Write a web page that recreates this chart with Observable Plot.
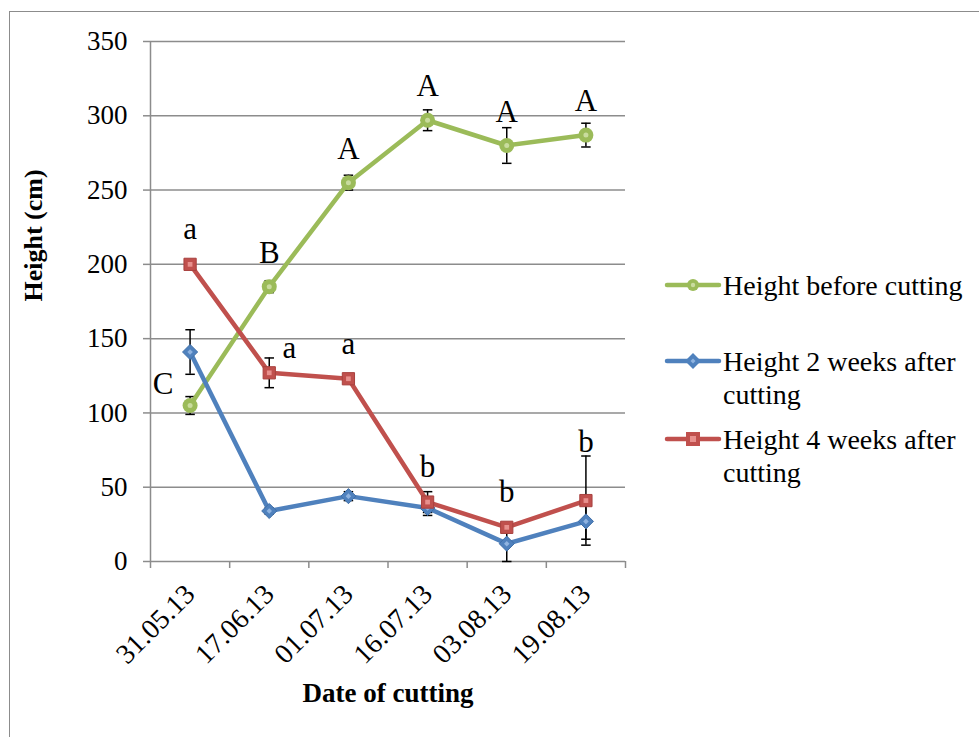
<!DOCTYPE html>
<html>
<head>
<meta charset="utf-8">
<script src="https://cdn.jsdelivr.net/npm/d3@7"></script>
<script src="https://cdn.jsdelivr.net/npm/@observablehq/plot@0.6"></script>
<style>
  html, body { margin: 0; padding: 0; background: #fff; }
  #wrap { position: relative; width: 979px; height: 737px; overflow: hidden; background: #fff; font-family: "Liberation Serif", serif; }
  #frame { position: absolute; left: 9px; top: 11px; width: 1100px; height: 900px; border: 1.5px solid #8c8c8c; box-sizing: border-box; }
  #chart { position: absolute; left: 0; top: 0; }
  #legend { position: absolute; left: 664px; top: 0; font-size: 28px; color: #000; }
  .item { position: absolute; left: 0; white-space: nowrap; }
  .item svg { position: absolute; left: 0; }
  .item .txt { position: absolute; left: 59px; line-height: 33px; }
</style>
</head>
<body>
<div id="wrap">
  <div id="frame"></div>
  <div id="chart"></div>
  <div id="legend"></div>
</div>
<script>
// ---- data ----
const dates = ["31.05.13", "17.06.13", "01.07.13", "16.07.13", "03.08.13", "19.08.13"];
const seriesNames = ["Height before cutting", "Height 2 weeks after cutting", "Height 4 weeks after cutting"];
const before = [105, 185, 255, 297, 280, 287];
const beforeErr = [6, 4, 5, 7, 12, 8];
const week2 = [141, 34, 44, 36, 12, 27];
const week2Err = [15, 2, 3, 5, 12, 12];
const week4 = [200, 127, 123, 40, 23, 41];
const week4Err = [2, 10, 3, 7, 2, 30];
const beforeLetters = ["C", "B", "A", "A", "A", "A"];
const week4Letters = ["a", "a", "a", "b", "b", "b"];
const yTicks = [0, 50, 100, 150, 200, 250, 300, 350];

// ---- styles ----
const colors = ["#9BBB59", "#4F81BD", "#C0504D"];
const light = ["#c9dc9e", "#8fb3e0", "#e8908d"];

const idx = d3.range(dates.length);
const mk = (vals, errs, s) => idx.map(i => ({i, x: i + 0.5, v: vals[i], e: errs[i], s}));
const green = mk(before, beforeErr, 0);
const blue = mk(week2, week2Err, 1);
const red = mk(week4, week4Err, 2);
const all = [...green, ...blue, ...red];

// label placement offsets (pixels), per label
const greenOff = i => i === 0 ? [-27, -12] : [0, -24];
const redOff = i => i === 1 ? [20, -15] : (i === 5 ? [0, -49] : [0, -25]);
const labelMarks = [];
idx.forEach(i => {
  const [gx, gy] = greenOff(i);
  labelMarks.push(Plot.text([{x: i + 0.5, v: before[i], t: beforeLetters[i]}], {x: "x", y: "v", text: "t", dx: gx, dy: gy, lineAnchor: "bottom", fontSize: 31}));
  const [rx, ry] = redOff(i);
  labelMarks.push(Plot.text([{x: i + 0.5, v: week4[i], t: week4Letters[i]}], {x: "x", y: "v", text: "t", dx: rx, dy: ry, lineAnchor: "bottom", fontSize: 31}));
});

const cap = 0.06;

const chart = Plot.plot({
  width: 979,
  height: 737,
  marginLeft: 150,
  marginRight: 354,
  marginTop: 41,
  marginBottom: 176,
  x: {domain: [0, 6]},
  y: {domain: [0, 350]},
  style: {fontFamily: "Liberation Serif, serif", fontSize: "27px", color: "#000", background: "transparent", overflow: "visible"},
  marks: [
    Plot.gridY(yTicks.filter(d => d > 0), {stroke: "#8c8c8c", strokeOpacity: 1, strokeWidth: 1.5}),
    Plot.ruleY([0], {stroke: "#8c8c8c", strokeWidth: 1.5}),
    Plot.ruleX([0], {stroke: "#8c8c8c", strokeWidth: 1.5}),
    Plot.axisY({ticks: yTicks, tickSize: 7, tickPadding: 16, stroke: "#8c8c8c", strokeWidth: 1.5, label: null, fontSize: 27}),
    Plot.axisX({ticks: d3.range(0, 7), tickFormat: () => "", tickSize: 7, stroke: "#8c8c8c", strokeWidth: 1.5, label: null}),
    Plot.axisX({ticks: idx.map(i => i + 0.5), tickFormat: t => dates[Math.floor(t)], tickSize: 0, tickPadding: 28, tickRotate: -45, label: null, fontSize: 28}),
    Plot.text(["Height (cm)"], {frameAnchor: "left", dx: -117, rotate: -90, fontWeight: "bold", fontSize: 26}),
    Plot.text(["Date of cutting"], {frameAnchor: "bottom", dy: 140, fontWeight: "bold", fontSize: 27}),
    // error bars
    Plot.ruleX(all, {x: "x", y1: d => d.v - d.e, y2: d => d.v + d.e, stroke: "#000", strokeWidth: 1.5}),
    Plot.link(all, {x1: d => d.x - cap, x2: d => d.x + cap, y1: d => d.v + d.e, y2: d => d.v + d.e, stroke: "#000", strokeWidth: 1.5}),
    Plot.link(all, {x1: d => d.x - cap, x2: d => d.x + cap, y1: d => d.v - d.e, y2: d => d.v - d.e, stroke: "#000", strokeWidth: 1.5}),
    // green
    Plot.line(green, {x: "x", y: "v", stroke: colors[0], strokeWidth: 4.5}),
    Plot.dot(green, {x: "x", y: "v", r: 7.5, fill: colors[0], stroke: "none"}),
    Plot.dot(green, {x: "x", y: "v", r: 2.5, fill: light[0]}),
    // blue
    Plot.line(blue, {x: "x", y: "v", stroke: colors[1], strokeWidth: 4.5}),
    Plot.dot(blue, {x: "x", y: "v", symbol: "diamond2", r: 6.8, fill: colors[1], stroke: "#3f6fa8", strokeWidth: 1}),
    Plot.dot(blue, {x: "x", y: "v", symbol: "diamond2", r: 2.5, fill: light[1]}),
    // red
    Plot.line(red, {x: "x", y: "v", stroke: colors[2], strokeWidth: 4.5}),
    Plot.dot(red, {x: "x", y: "v", symbol: "square2", r: 7.8, fill: colors[2], stroke: "#a8413e", strokeWidth: 1}),
    Plot.dot(red, {x: "x", y: "v", symbol: "square2", r: 3, fill: light[2]}),
    // letters
    ...labelMarks
  ]
});
document.getElementById("chart").appendChild(chart);

// ---- legend ----
const legendItems = [
  {lines: ["Height before cutting"], y: 285, sym: "circle"},
  {lines: ["Height 2 weeks after", "cutting"], y: 361, sym: "diamond"},
  {lines: ["Height 4 weeks after", "cutting"], y: 439, sym: "square"}
];
const leg = document.getElementById("legend");
legendItems.forEach((it, k) => {
  const div = document.createElement("div");
  div.className = "item";
  div.style.top = (it.y - 16.5) + "px";
  let marker = "";
  if (it.sym === "circle") marker = `<circle cx="29" cy="12" r="6" fill="${colors[k]}"/><circle cx="29" cy="12" r="2.2" fill="${light[k]}"/>`;
  if (it.sym === "diamond") marker = `<path d="M29 4 L37 12 L29 20 L21 12 Z" fill="${colors[k]}"/><path d="M29 9.5 L31.5 12 L29 14.5 L26.5 12 Z" fill="${light[k]}"/>`;
  if (it.sym === "square") marker = `<rect x="22" y="5" width="14" height="14" fill="${colors[k]}"/><rect x="26" y="9" width="6" height="6" fill="${light[k]}"/>`;
  div.innerHTML = `<svg width="60" height="24" style="top:4.5px"><line x1="3" x2="55" y1="12" y2="12" stroke="${colors[k]}" stroke-width="4.5" stroke-linecap="round"/>${marker}</svg>` +
    `<div class="txt">${it.lines.join("<br>")}</div>`;
  leg.appendChild(div);
});
</script>
</body>
</html>
